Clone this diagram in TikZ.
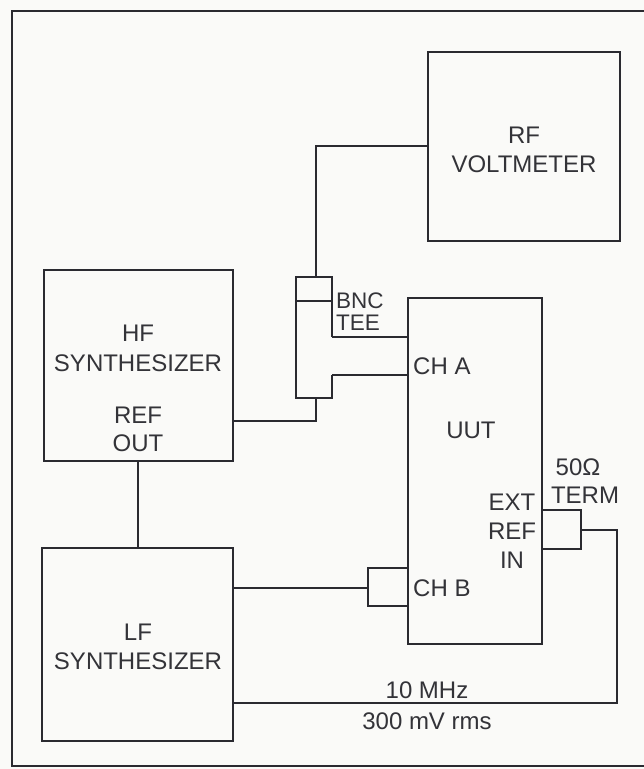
\documentclass[tikz,border=0pt]{standalone}
\usepackage{fontspec}
\setmainfont{Liberation Sans}
\begin{document}
\begin{tikzpicture}[x=1pt,y=-1pt,
  wire/.style={draw=linecol,line width=2pt,line join=miter},
  box/.style={draw=linecol,line width=2pt,rectangle,inner sep=0pt},
  lbl/.style={text=textcol,font=\fontsize{24}{29}\selectfont,inner sep=0pt,align=center},
  lbll/.style={lbl,anchor=west,align=left},
  tight/.style={lbll,font=\fontsize{22.5}{26}\selectfont,text height=16pt,text depth=0pt}]
\definecolor{linecol}{HTML}{2A2A30}
\definecolor{textcol}{HTML}{333338}
\definecolor{bgcol}{HTML}{FAFAF8}
\useasboundingbox[fill=bgcol] (0,0) rectangle (644,769);
% frame
\draw[wire] (644,11) -- (12,11) -- (12,766) -- (644,766);
% boxes
\node[box,minimum width=192pt,minimum height=189pt] (rf) at (524,146.5) {};
\node[lbl] at (524,150) {RF\\VOLTMETER};
\node[box,minimum width=189pt,minimum height=191pt] (hf) at (138.5,365.5) {};
\node[lbl] at (138,333) {HF};
\node[lbl] at (138,363) {SYNTHESIZER};
\node[lbl] at (138,415) {REF};
\node[lbl] at (138,443) {OUT};
\node[box,minimum width=191pt,minimum height=193pt] (lf) at (137.5,644.5) {};
\node[lbl] at (138,647) {LF\\SYNTHESIZER};
\node[box,minimum width=134pt,minimum height=346pt] (uut) at (475,471) {};
\node[lbl] at (471,430) {UUT};
\node[lbll] at (413,366) {CH A};
\node[lbll] at (413,588) {CH B};
\node[lbl] at (512,502) {EXT};
\node[lbl] at (512,531) {REF};
\node[lbl] at (512,560) {IN};
% BNC tee
\coordinate (teetop) at (316,277);
\coordinate (teebot) at (316,398);
\draw[wire] (332,337) -- (332,277) -- (296,277) -- (296,398) -- (332,398) -- (332,375);
\draw[wire] (296,301) -- (332,301);
\node[tight] at (336,300) {BNC};
\node[tight] at (336,322.5) {TEE};
% CH B connector
\coordinate (chbl) at (368,588);
\draw[wire] (uut.west |- 0,568) -- (368,568) -- (368,606) -- (uut.west |- 0,606);
% 50 ohm term
\coordinate (termr) at (581,530);
\draw[wire] (uut.east |- 0,510) -- (581,510) -- (581,549) -- (uut.east |- 0,549);
\node[lbl] at (578,467) {50Ω};
\node[lbl] at (585,495) {TERM};
% connectors
\draw[wire] (rf.west |- 0,146) -- (316,146) -- (teetop);
\draw[wire] (hf.east |- 0,421) -- (316,421) -- (teebot);
\draw[wire] (332,337) -- (uut.west |- 0,337);
\draw[wire] (332,375) -- (uut.west |- 0,375);
\draw[wire] (hf.south -| 138,0) -- (lf.north -| 138,0);
\draw[wire] (lf.east |- 0,588) -- (chbl);
\draw[wire] (lf.east |- 0,703) -- (617,703) -- (617,530) -- (termr);
\node[lbl] at (427,690) {10 MHz};
\node[lbl] at (427,721) {300 mV rms};
\end{tikzpicture}
\end{document}
